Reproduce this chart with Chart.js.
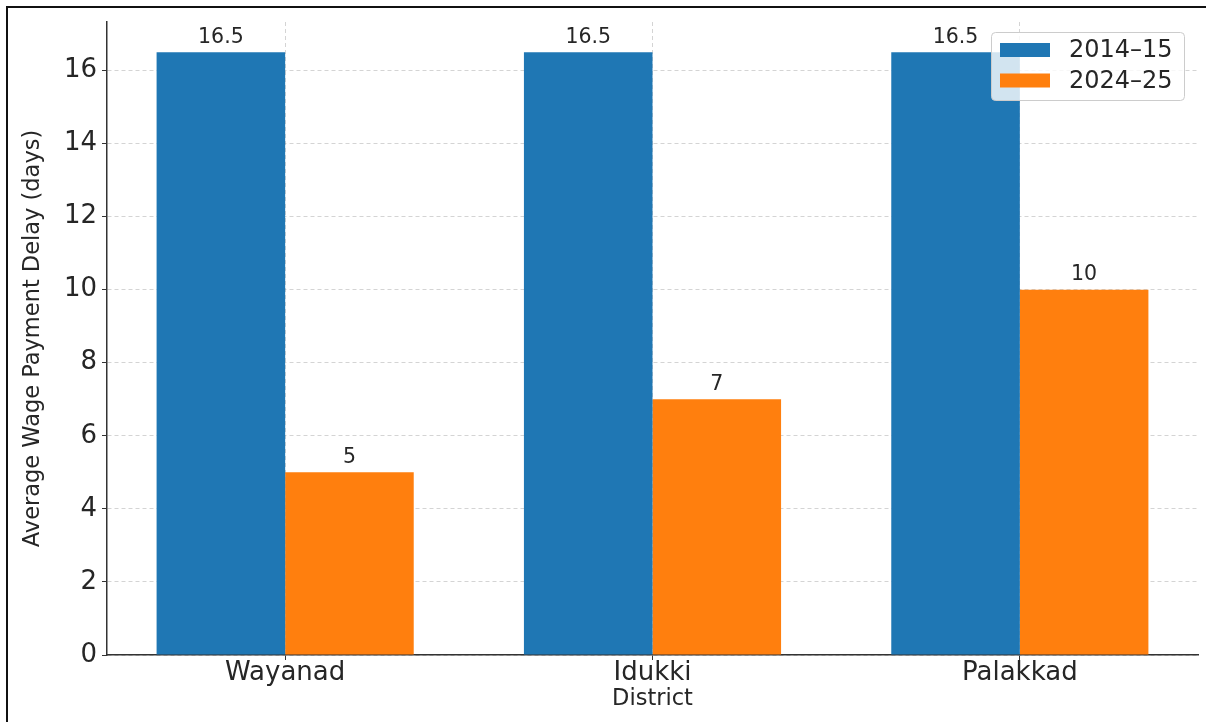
<!DOCTYPE html>
<html>
<head>
<meta charset="utf-8">
<title>Average Wage Payment Delay by District</title>
<script src="https://cdn.jsdelivr.net/npm/chart.js@4.4.1/dist/chart.umd.min.js"></script>
<style>
  html, body { margin: 0; padding: 0; background: #ffffff; }
  #wrap { width: 1206px; height: 722px; position: relative; }
  canvas { display: block; }
</style>
</head>
<body>
<div id="wrap"><canvas id="chart" width="1206" height="722"></canvas></div>
<script>
// Districts on the x axis
const districts = ['Wayanad', 'Idukki', 'Palakkad'];
// Average wage payment delay in days, per period
const delay2014 = [16.5, 16.5, 16.5];
const delay2024 = [5, 7, 10];
const seriesNames = ['2014–15', '2024–25'];
// Value-axis tick labels
const yTicks = [0, 2, 4, 6, 8, 10, 12, 14, 16];

const FONT = "'DejaVu Sans', 'Liberation Sans', sans-serif";
const TEXT = '#262626';
const GRID = 'rgba(160,160,160,0.45)';
const SPINE = '#333333';

const toPoints = (arr) => arr.map((v, i) => ({ x: i, y: v }));

// White page with a thin frame along the top and left edges
const framePlugin = {
  id: 'frame',
  beforeDraw(chart) {
    const ctx = chart.ctx;
    ctx.save();
    ctx.fillStyle = '#ffffff';
    ctx.fillRect(0, 0, chart.width, chart.height);
    ctx.fillStyle = '#111111';
    ctx.fillRect(6, 6, chart.width - 6, 2);
    ctx.fillRect(6, 6, 2, chart.height - 6);
    ctx.restore();
  }
};

// Value labels above each bar, then the legend box in the upper right
const overlayPlugin = {
  id: 'overlay',
  afterDraw(chart) {
    const ctx = chart.ctx;
    ctx.save();
    ctx.font = '20.5px ' + FONT;
    ctx.fillStyle = TEXT;
    ctx.textAlign = 'center';
    ctx.textBaseline = 'alphabetic';
    chart.data.datasets.forEach((ds, di) => {
      const meta = chart.getDatasetMeta(di);
      meta.data.forEach((bar, i) => {
        ctx.fillText(String(ds.data[i].y), bar.x, bar.y - 9.5);
      });
    });

    // legend
    const bx = 991.5, by = 32.5, bw = 193, bh = 68, r = 4;
    ctx.beginPath();
    ctx.moveTo(bx + r, by);
    ctx.lineTo(bx + bw - r, by);
    ctx.quadraticCurveTo(bx + bw, by, bx + bw, by + r);
    ctx.lineTo(bx + bw, by + bh - r);
    ctx.quadraticCurveTo(bx + bw, by + bh, bx + bw - r, by + bh);
    ctx.lineTo(bx + r, by + bh);
    ctx.quadraticCurveTo(bx, by + bh, bx, by + bh - r);
    ctx.lineTo(bx, by + r);
    ctx.quadraticCurveTo(bx, by, bx + r, by);
    ctx.closePath();
    ctx.fillStyle = 'rgba(255,255,255,0.8)';
    ctx.fill();
    ctx.strokeStyle = 'rgba(204,204,204,1)';
    ctx.lineWidth = 1;
    ctx.stroke();

    ctx.font = '24px ' + FONT;
    ctx.textAlign = 'left';
    ctx.textBaseline = 'middle';
    chart.data.datasets.forEach((ds, di) => {
      const cy = 50 + di * 30.5;
      ctx.fillStyle = ds.backgroundColor;
      ctx.fillRect(1000, cy - 7, 50, 14);
      ctx.fillStyle = TEXT;
      ctx.fillText(ds.label, 1069, cy + 1);
    });
    ctx.restore();
  }
};

new Chart(document.getElementById('chart'), {
  type: 'bar',
  data: {
    datasets: [
      { label: seriesNames[0], data: toPoints(delay2014), backgroundColor: '#1f77b4', borderWidth: 0 },
      { label: seriesNames[1], data: toPoints(delay2024), backgroundColor: '#ff7f0e', borderWidth: 0 }
    ]
  },
  options: {
    responsive: false,
    animation: false,
    devicePixelRatio: 1,
    categoryPercentage: 0.7,
    barPercentage: 1.0,
    layout: { padding: { top: 22, right: 8, bottom: 0, left: 0 } },
    plugins: {
      legend: { display: false },
      tooltip: { enabled: false },
      title: { display: false }
    },
    scales: {
      x: {
        type: 'linear',
        min: -0.485,
        max: 2.485,
        offset: false,
        z: 1,
        afterBuildTicks(scale) {
          scale.ticks = districts.map((_, i) => ({ value: i }));
        },
        afterFit(scale) { scale.height = 67; },
        ticks: {
          autoSkip: false,
          maxRotation: 0,
          padding: -2,
          color: TEXT,
          font: { family: FONT, size: 26 },
          callback: (v) => districts[v]
        },
        grid: {
          offset: false,
          color: GRID,
          lineWidth: 1,
          drawTicks: true,
          tickLength: 5,
          tickColor: SPINE,
          tickWidth: 1,
          tickBorderDash: []
        },
        border: { display: true, color: SPINE, width: 1.5, dash: [4, 3] },
        title: {
          display: true,
          text: 'District',
          color: TEXT,
          font: { family: FONT, size: 22.5 },
          padding: { top: 0, bottom: 9 }
        }
      },
      y: {
        type: 'linear',
        min: 0,
        max: 17.325,
        z: 1,
        afterBuildTicks(scale) {
          scale.ticks = yTicks.map((v) => ({ value: v }));
        },
        afterFit(scale) { scale.width = 107; },
        ticks: {
          padding: 5,
          color: TEXT,
          font: { family: FONT, size: 26 },
          callback: (v) => String(v)
        },
        grid: {
          color: GRID,
          lineWidth: 1,
          drawTicks: true,
          tickLength: 5,
          tickColor: SPINE,
          tickWidth: 1,
          tickBorderDash: []
        },
        border: { display: true, color: SPINE, width: 1.5, dash: [4, 3] },
        title: {
          display: true,
          text: 'Average Wage Payment Delay (days)',
          color: TEXT,
          font: { family: FONT, size: 22.5 },
          padding: { top: 20, bottom: 0 }
        }
      }
    }
  },
  plugins: [framePlugin, overlayPlugin]
});
</script>
</body>
</html>
